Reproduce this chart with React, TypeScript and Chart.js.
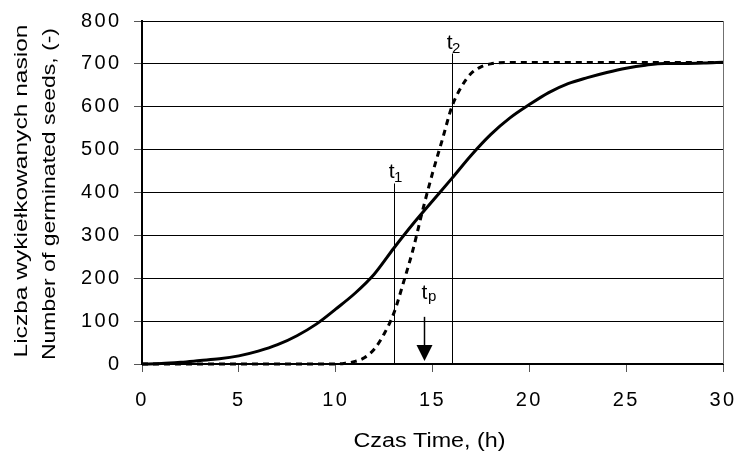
import React, { useEffect, useRef } from 'react';
import { Chart, registerables } from 'chart.js';

Chart.register(...registerables);

// ---- data ----
const timeSolid = [0, 1, 2, 3, 4, 5, 6, 7, 8, 9, 10, 11, 12, 13, 14, 15, 16, 17, 18, 19, 20, 21, 22, 23, 24, 25, 26, 27, 28, 29, 30, 30.5];
const seedsSolid = [0, 1, 4, 8, 12, 19, 30, 45, 66, 93, 128, 165, 210, 270, 327, 380, 433, 487, 535, 574, 605, 633, 654, 668, 680, 690, 697, 701, 701, 702, 704, 705];

const timeDashed = [0, 2, 4, 6, 8, 10, 10.5, 11, 11.5, 12, 12.5, 13, 13.5, 14, 14.5, 15, 15.5, 16, 16.5, 17, 17.5, 18, 19, 20, 25, 30, 30.6];
const seedsDashed = [0, 0, 0, 0, 0, 0, 2, 6, 15, 35, 70, 118, 190, 268, 360, 445, 522, 600, 647, 678, 693, 700, 703, 703, 703, 703, 703];

const xTickValues = [0, 5, 10, 15, 20, 25, 30];
const yTickValues = [0, 100, 200, 300, 400, 500, 600, 700, 800];

const markerTimes = [13, 16];
const markerTops = [421, 724];
const markerSubs = ['1', '2'];

const tpTime = 14.55;
const tpArrow = [110, 7];
const tpSub = 'p';

const xTitle = 'Czas Time, (h)';
const yTitle = ['Liczba wykiełkowanych nasion', 'Number of germinated seeds, (-)'];

const FONT = "'Liberation Sans', Arial, sans-serif";

const toPoints = (xs: number[], ys: number[]) => xs.map((x, i) => ({ x, y: ys[i] }));

// draw text centred at (0,0) in the current frame, stretched along its length to a target width
function stretchedText(ctx: CanvasRenderingContext2D, text: string, targetWidth: number) {
  (ctx as any).letterSpacing = '0px';
  const w = ctx.measureText(text).width;
  const s = targetWidth / w;
  ctx.scale(s, 1);
  ctx.textAlign = 'center';
  ctx.fillText(text, 0, 0);
}

const annotPlugin = {
  id: 'annot',
  beforeDraw(chart: any) {
    try { chart.ctx.letterSpacing = '2.4px'; } catch (e) {}
  },
  afterDraw(chart: any) {
    const ctx = chart.ctx as CanvasRenderingContext2D;
    const xs = chart.scales.x;
    const ys = chart.scales.y;
    const area = chart.chartArea;
    ctx.save();
    try { (ctx as any).letterSpacing = '0px'; } catch (e) {}
    // right border
    ctx.strokeStyle = '#707070';
    ctx.lineWidth = 1;
    ctx.beginPath();
    ctx.moveTo(Math.round(area.right) + 0.5, area.top);
    ctx.lineTo(Math.round(area.right) + 0.5, area.bottom);
    ctx.stroke();

    ctx.fillStyle = '#000';
    ctx.strokeStyle = '#000';
    // vertical markers t1, t2
    markerTimes.forEach((t, i) => {
      const px = Math.round(xs.getPixelForValue(t)) + 0.5;
      const top = ys.getPixelForValue(markerTops[i]);
      const bot = ys.getPixelForValue(0);
      ctx.lineWidth = 1;
      ctx.beginPath();
      ctx.moveTo(px, top);
      ctx.lineTo(px, bot);
      ctx.stroke();
      ctx.font = `21px ${FONT}`;
      ctx.textAlign = 'right';
      ctx.textBaseline = 'alphabetic';
      ctx.fillText('t', px, top - 5);
      ctx.font = `15px ${FONT}`;
      ctx.textAlign = 'left';
      ctx.fillText(markerSubs[i], px - 0.5, top - 1);
    });

    // tp arrow
    const ax = Math.round(xs.getPixelForValue(tpTime)) + 0.5;
    const aTop = ys.getPixelForValue(tpArrow[0]);
    const aTip = ys.getPixelForValue(tpArrow[1]);
    ctx.lineWidth = 1.5;
    ctx.beginPath();
    ctx.moveTo(ax, aTop);
    ctx.lineTo(ax, aTip - 14);
    ctx.stroke();
    ctx.beginPath();
    ctx.moveTo(ax - 8, aTip - 16);
    ctx.lineTo(ax + 8, aTip - 16);
    ctx.lineTo(ax, aTip);
    ctx.closePath();
    ctx.fill();
    ctx.font = `21px ${FONT}`;
    ctx.textAlign = 'center';
    ctx.fillText('t', ax, aTop - 18);
    ctx.font = `15px ${FONT}`;
    ctx.textAlign = 'left';
    ctx.fillText(tpSub, ax + 3.5, aTop - 16);

    // axis titles
    ctx.textBaseline = 'alphabetic';
    ctx.font = `19.5px ${FONT}`;
    const cx = (area.left + area.right) / 2;
    ctx.save();
    ctx.translate(cx - 3, area.bottom + 82.5);
    stretchedText(ctx, xTitle, 152);
    ctx.restore();

    const cy = (area.top + area.bottom) / 2;
    const yLens = [333, 332];
    const yBase = [26.5, 55];
    ctx.font = `19px ${FONT}`;
    yTitle.forEach((line, i) => {
      ctx.save();
      ctx.translate(yBase[i], cy + (i === 0 ? -1.5 : 1.5));
      ctx.rotate(-Math.PI / 2);
      stretchedText(ctx, line, yLens[i]);
      ctx.restore();
    });
    ctx.restore();
  },
};

export default function App() {
  const ref = useRef<HTMLCanvasElement | null>(null);
  useEffect(() => {
    document.body.style.margin = '0';
    const canvas = ref.current;
    if (!canvas) return;
    const chart = new Chart(canvas, {
      type: 'line',
      data: {
        datasets: [
          {
            label: 'solid',
            data: toPoints(timeSolid, seedsSolid),
            borderColor: '#000',
            borderWidth: 3,
            pointRadius: 0,
            fill: false,
            cubicInterpolationMode: 'monotone',
            clip: false,
          } as any,
          {
            label: 'dashed',
            data: toPoints(timeDashed, seedsDashed),
            borderColor: '#000',
            borderWidth: 3,
            borderDash: [6, 5],
            borderCapStyle: 'butt',
            pointRadius: 0,
            fill: false,
            cubicInterpolationMode: 'monotone',
            clip: false,
          } as any,
        ],
      },
      options: {
        animation: false,
        responsive: false,
        devicePixelRatio: 1,
        layout: { padding: { top: 21, right: 15, left: 0, bottom: 0 } },
        plugins: { legend: { display: false }, tooltip: { enabled: false } },
        events: [],
        scales: {
          x: {
            type: 'linear',
            min: 0,
            max: 30,
            afterBuildTicks: (s: any) => { s.ticks = xTickValues.map((v) => ({ value: v })); },
            ticks: { color: '#000', font: { family: FONT, size: 20 }, padding: 16, maxRotation: 0 },
            grid: { drawOnChartArea: false, tickLength: 8, tickColor: '#555', lineWidth: 1 },
            border: { color: '#000', width: 2 },
            title: { display: false },
            afterFit: (s: any) => {
              s.height = 88;
              s.paddingLeft = 0;
              s.paddingRight = 0;
            },
          },
          y: {
            type: 'linear',
            min: 0,
            max: 800,
            afterBuildTicks: (s: any) => { s.ticks = yTickValues.map((v) => ({ value: v })); },
            ticks: { color: '#000', font: { family: FONT, size: 20 }, padding: 12.5 },
            grid: { color: '#000', lineWidth: 1, tickLength: 8, tickColor: '#555' },
            border: { color: '#000', width: 2 },
            title: { display: false },
            afterFit: (s: any) => {
              s.width = 142;
              s.paddingTop = 0;
              s.paddingBottom = 0;
            },
          },
        },
      } as any,
      plugins: [annotPlugin],
    });
    return () => chart.destroy();
  }, []);
  return (
    <div style={{ position: 'fixed', left: 0, top: 0, width: 738, height: 452, background: '#fff' }}>
      <canvas ref={ref} width={738} height={452} style={{ display: 'block', width: 738, height: 452 }} />
    </div>
  );
}
